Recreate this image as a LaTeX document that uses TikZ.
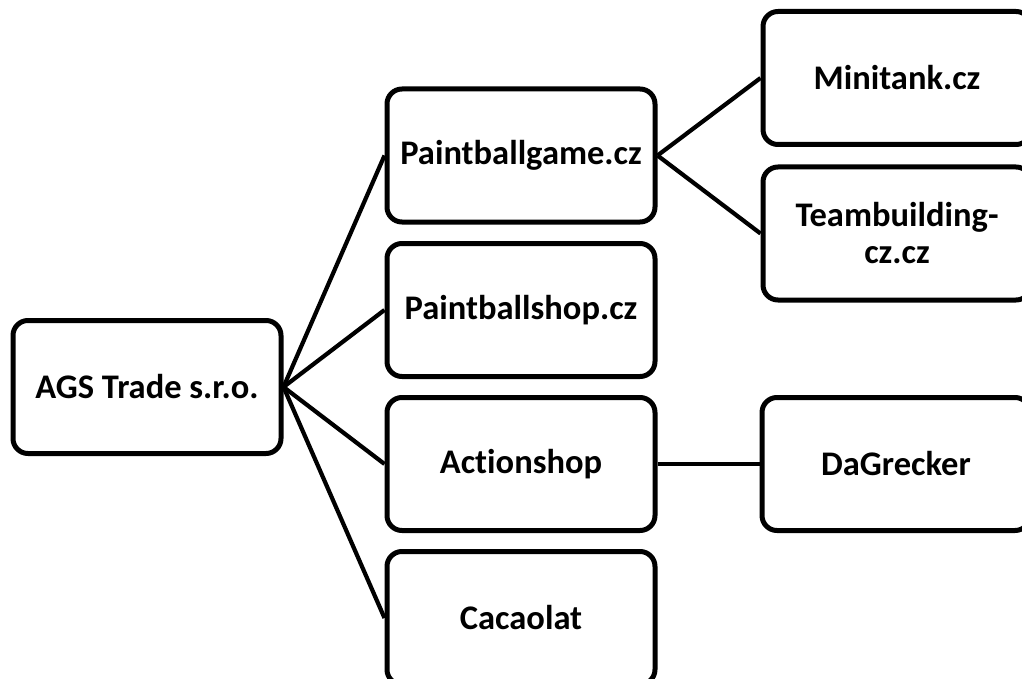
\documentclass[tikz,border=0pt]{standalone}
\usepackage{fontspec}
\setmainfont[Ligatures={NoCommon}]{Carlito}
\begin{document}
\begin{tikzpicture}[x=1pt,y=-1pt,
  orgbox/.style={draw=black, line width=5pt, rounded corners=15pt, fill=white,
    minimum width=268pt, minimum height=133pt, align=center,
    font=\fontsize{34.5}{37}\selectfont\bfseries, inner sep=2pt},
  link/.style={line width=4.2pt, draw=black}]
\useasboundingbox (0,0) rectangle (1022,679);
\clip (0,0) rectangle (1022,679);
\fill[white] (0,0) rectangle (1022,679);
\node[orgbox] (ags) at (147,387) {AGS Trade s.r.o.};
\node[orgbox] (pg) at (521,155.5) {Paintballgame.cz};
\node[orgbox] (ps) at (521,310) {Paintballshop.cz};
\node[orgbox] (as) at (521,464) {Actionshop};
\node[orgbox] (cc) at (521,618) {Cacaolat};
\node[orgbox] (mt) at (897,78) {Minitank.cz};
\node[orgbox] (tb) at (897,233.5) {Teambuilding-\\cz.cz};
\node[orgbox] (dg) at (896,464) {DaGrecker};
\draw[link] (ags.east) -- (pg.west);
\draw[link] (ags.east) -- (ps.west);
\draw[link] (ags.east) -- (as.west);
\draw[link] (ags.east) -- (cc.west);
\draw[link] (pg.east) -- (mt.west);
\draw[link] (pg.east) -- (tb.west);
\draw[link, line width=3.5pt] (as.east) -- (dg.west);
\end{tikzpicture}
\end{document}
